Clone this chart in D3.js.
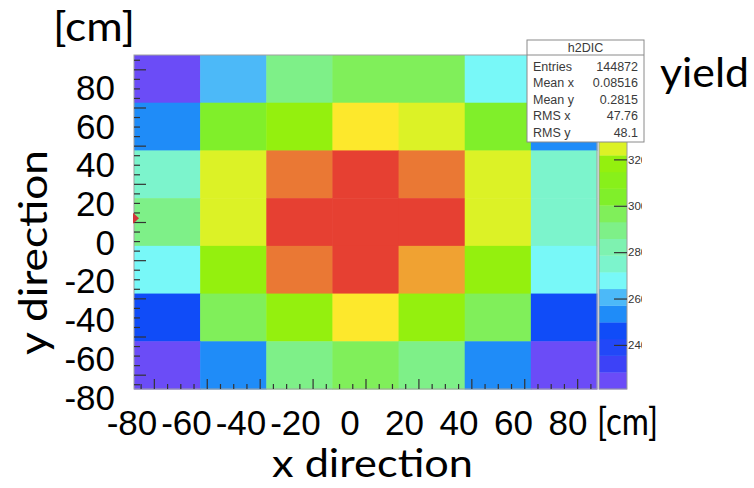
<!DOCTYPE html>
<html>
<head>
<meta charset="utf-8">
<script src="https://cdn.jsdelivr.net/npm/d3@7"></script>
<style>
  body { margin: 0; background: #fff; }
  svg { display: block; }
</style>
</head>
<body>
<div id="chart"></div>
<script>
// bin centres [cm], 25 cm bins
const xCenters = [-75, -50, -25, 0, 25, 50, 75];
const yCenters = [75, 50, 25, 0, -25, -50, -75];
const binWidth = 25;

// yield per bin, rows top (y=75) to bottom (y=-75)
const yieldRows = [
    [223, 260, 289, 296, 296, 268, 226],
    [253, 304, 318, 332, 325, 304, 253],
    [275, 325, 347, 362, 347, 325, 275],
    [289, 325, 361, 365, 360, 325, 275],
    [268, 318, 347, 363, 340, 318, 268],
    [246, 296, 318, 332, 318, 296, 246],
    [224, 253, 289, 296, 289, 253, 221]
];

const axisLabels = [-80, -60, -40, -20, 0, 20, 40, 60, 80];
const zTicks = [240, 260, 280, 300, 320];
const statNames = ["Entries", "Mean x", "Mean y", "RMS x", "RMS y"];
const statValues = ["144872", "0.08516", "0.2815", "47.76", "48.1"];

// 20 contour colours, low to high
const palette = [
    "#6b4cf7", "#3d42f7", "#2248f8", "#104cf8", "#1f8cf8",
    "#4cb9f8", "#78f8f8", "#7cf4cc", "#7ef2b0", "#7ef088",
    "#80ef5a", "#80ef2a", "#88f01a", "#94f00e", "#dcf226",
    "#fde82c", "#f0a232", "#ea7834", "#e85a33", "#e64032"
];

const width = 754, height = 488;
const frame = { left: 134, right: 597, top: 55, bottom: 389 };
const numFont = "'Liberation Sans', Arial, sans-serif";
const titleFont = "Lato, 'Open Sans', sans-serif";

const svg = d3.select("#chart").append("svg")
    .attr("width", width)
    .attr("height", height);

const x = d3.scaleLinear().domain([-87.5, 87.5]).range([frame.left, frame.right]);
const y = d3.scaleLinear().domain([-87.5, 87.5]).range([frame.bottom, frame.top]);

const cells = [];
yieldRows.forEach((row, i) => row.forEach((v, j) => {
    cells.push({ cx: xCenters[j], cy: yCenters[i], v: v });
}));

const zmin = d3.min(cells, d => d.v);
const zmax = d3.max(cells, d => d.v);
const color = d3.scaleQuantize().domain([zmin, zmax]).range(palette);

// cells
svg.append("g").attr("class", "cells")
    .selectAll("rect")
    .data(cells)
    .enter().append("rect")
    .attr("x", d => x(d.cx - binWidth / 2))
    .attr("y", d => y(d.cy + binWidth / 2))
    .attr("width", d => x(d.cx + binWidth / 2) - x(d.cx - binWidth / 2) + 0.5)
    .attr("height", d => y(d.cy - binWidth / 2) - y(d.cy + binWidth / 2) + 0.5)
    .attr("fill", d => color(d.v));

// frame
svg.append("rect")
    .attr("x", frame.left).attr("y", frame.top)
    .attr("width", frame.right - frame.left)
    .attr("height", frame.bottom - frame.top)
    .attr("fill", "none")
    .attr("stroke", "#a0a0a0")
    .attr("stroke-width", 1);

// ROOT style ticks, inside the frame
const minorTicks = d3.range(-85, 86, 5).filter(v => v % 20 !== 0);
function tickAxis(g) {
    g.select(".domain").remove();
    g.selectAll("line").attr("stroke", "#333").attr("stroke-width", 1.2);
}
svg.append("g").attr("transform", `translate(${frame.left},0)`)
    .call(d3.axisRight(y).tickValues(minorTicks).tickSize(6).tickFormat(""))
    .call(tickAxis);
svg.append("g").attr("transform", `translate(${frame.left},0)`)
    .call(d3.axisRight(y).tickValues(axisLabels).tickSize(12).tickFormat(""))
    .call(tickAxis);
svg.append("g").attr("transform", `translate(0,${frame.bottom})`)
    .call(d3.axisTop(x).tickValues(minorTicks).tickSize(5).tickFormat(""))
    .call(tickAxis);
svg.append("g").attr("transform", `translate(0,${frame.bottom})`)
    .call(d3.axisTop(x).tickValues(axisLabels).tickSize(10).tickFormat(""))
    .call(tickAxis);

// small red marker on the left edge
svg.append("path")
    .attr("d", `M${frame.left - 1},${y(2) - 5.5} L${frame.left + 5},${y(2)} L${frame.left - 1},${y(2) + 5.5} Z`)
    .attr("fill", "#d2343a");

// colour palette
const pal = { left: 599, right: 627 };
const z = d3.scaleLinear().domain([zmin, zmax]).range([frame.bottom, frame.top]);
const step = (zmax - zmin) / palette.length;
svg.append("g").selectAll("rect")
    .data(palette)
    .enter().append("rect")
    .attr("x", pal.left)
    .attr("y", (c, i) => z(zmin + (i + 1) * step))
    .attr("width", pal.right - pal.left)
    .attr("height", (c, i) => z(zmin + i * step) - z(zmin + (i + 1) * step) + 0.3)
    .attr("fill", c => c);
svg.append("rect")
    .attr("x", pal.left).attr("y", frame.top)
    .attr("width", pal.right - pal.left)
    .attr("height", frame.bottom - frame.top)
    .attr("fill", "none")
    .attr("stroke", "#9a9a9a");

svg.append("defs").append("clipPath").attr("id", "zclip")
    .append("rect").attr("x", pal.left).attr("y", 0).attr("width", 43).attr("height", height);

const zAxis = svg.append("g")
    .attr("clip-path", "url(#zclip)")
    .append("g")
    .attr("transform", `translate(${pal.right},0)`)
    .call(d3.axisRight(z).tickValues(zTicks).tickSizeInner(-13).tickSizeOuter(0).tickPadding(1));
zAxis.select(".domain").remove();
zAxis.selectAll("line").attr("stroke", "#333").attr("stroke-width", 1.2);
zAxis.selectAll("text")
    .attr("fill", "#333")
    .style("font-family", numFont)
    .style("font-size", "11.5px");

// stats box
const box = { x: 527, y: 40, w: 117, h: 102 };
const stats = svg.append("g");
stats.append("rect")
    .attr("x", box.x).attr("y", box.y)
    .attr("width", box.w).attr("height", box.h)
    .attr("fill", "#fff")
    .attr("stroke", "#8a8a8a");
stats.append("line")
    .attr("x1", box.x).attr("x2", box.x + box.w)
    .attr("y1", box.y + 15).attr("y2", box.y + 15)
    .attr("stroke", "#8a8a8a");
stats.append("text")
    .attr("x", box.x + box.w / 2).attr("y", box.y + 12)
    .attr("text-anchor", "middle")
    .text("h2DIC");
statNames.forEach((name, i) => {
    stats.append("text")
        .attr("x", box.x + 6).attr("y", box.y + 31 + i * 16.4)
        .text(name);
    stats.append("text")
        .attr("x", box.x + box.w - 6).attr("y", box.y + 31 + i * 16.4)
        .attr("text-anchor", "end")
        .text(statValues[i]);
});
stats.selectAll("text")
    .attr("fill", "#3a3a3a")
    .style("font-family", numFont)
    .style("font-size", "12.5px");

// big tick labels
const labelX = d3.scaleLinear().domain([-80, 80]).range([132, 568]);
const labelY = d3.scaleLinear().domain([-80, 80]).range([397, 87.5]);
svg.append("g").selectAll("text")
    .data(axisLabels)
    .enter().append("text")
    .attr("x", d => labelX(d))
    .attr("y", 435)
    .attr("text-anchor", "middle")
    .attr("fill", "#000")
    .style("font-family", numFont)
    .style("font-size", "35px")
    .text(d => d);
svg.append("g").selectAll("text")
    .data(axisLabels)
    .enter().append("text")
    .attr("x", 115)
    .attr("y", d => labelY(d) + 12.5)
    .attr("text-anchor", "end")
    .attr("fill", "#000")
    .style("font-family", numFont)
    .style("font-size", "35px")
    .text(d => d);

// titles
function title(txt, tx, ty, size, len, rot) {
    const t = svg.append("text")
        .attr("x", tx).attr("y", ty)
        .attr("fill", "#000")
        .style("font-family", titleFont)
        .style("font-size", size + "px")
        .attr("textLength", len)
        .attr("lengthAdjust", "spacingAndGlyphs")
        .text(txt);
    if (rot) t.attr("transform", `rotate(-90,${tx},${ty})`);
    return t;
}
title("[cm]", 53, 41, 41, 82);
title("yield", 660, 87, 41, 89);
title("[cm]", 597, 435, 38, 61);
title("x direction", 272, 477, 38, 201);
title("y direction", 47, 355, 38, 205, true);
</script>
</body>
</html>
